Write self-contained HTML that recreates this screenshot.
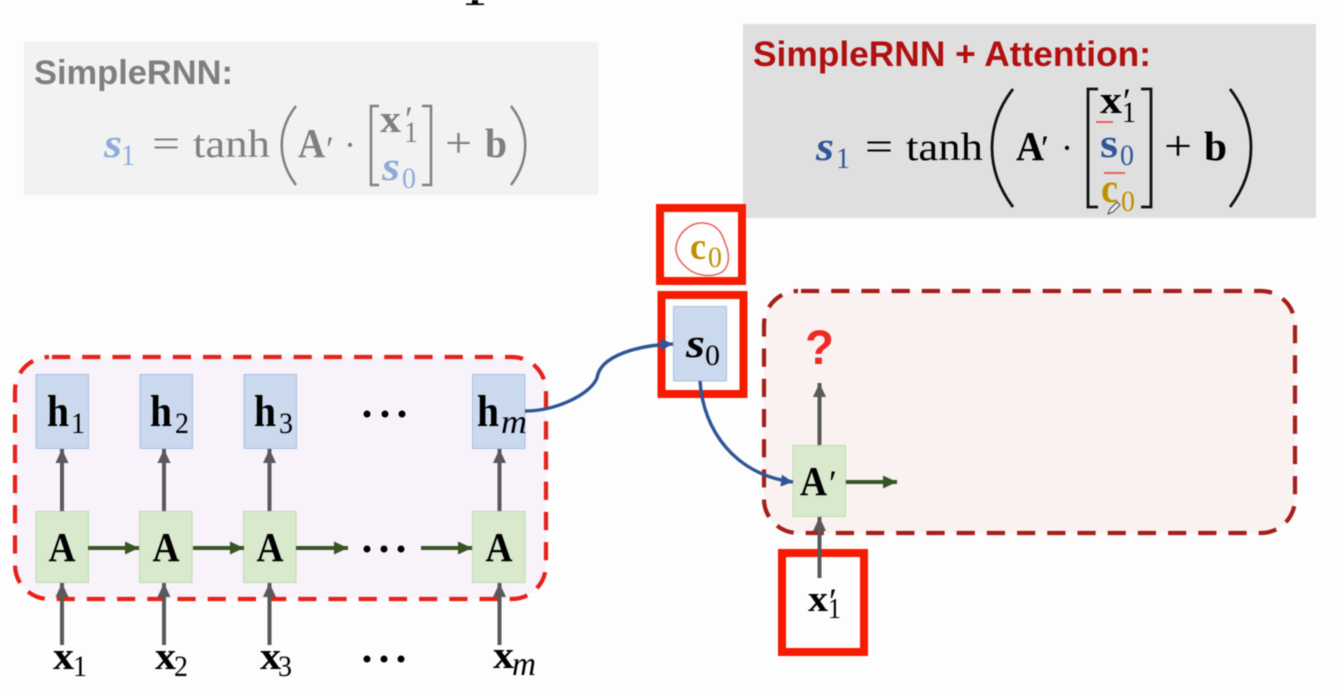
<!DOCTYPE html>
<html><head><meta charset="utf-8">
<style>
html,body{margin:0;padding:0;background:#fdfdfd;width:1337px;height:690px;overflow:hidden}
svg{display:block;filter:blur(0.45px)}
text{font-family:"Liberation Serif",serif;fill:#000}
.b{font-weight:bold;font-size:41px}
.h{font-weight:bold;font-size:44px}
.x{font-weight:bold;font-size:39px}
.s{font-size:30px}
.m{font-style:italic;font-size:34px}
.p{font-size:36px}
.lab{font-family:"Liberation Sans",sans-serif;font-weight:bold;font-size:34px}
</style></head><body>
<svg width="1337" height="690" viewBox="0 0 1337 690" xmlns="http://www.w3.org/2000/svg">
<defs>
<marker id="g" markerUnits="userSpaceOnUse" markerWidth="15" markerHeight="15" refX="14" refY="7.500" orient="auto"><path d="M0 1L14 7.500L0 14z" fill="#595959"/></marker>
<marker id="v" markerUnits="userSpaceOnUse" markerWidth="15" markerHeight="15" refX="14" refY="7.500" orient="auto"><path d="M0 1L14 7.500L0 14z" fill="#375623"/></marker>
<marker id="l" markerUnits="userSpaceOnUse" markerWidth="14" markerHeight="14" refX="12" refY="7" orient="auto"><path d="M0 1L12 7L0 13z" fill="#2f5597"/></marker>
</defs>
<rect width="1337" height="690" fill="#fdfdfd"/>
<path d="M466 5h18v-1.600h-6V0h-6v3.400h-6z" fill="#000"/>

<!-- left formula -->
<rect x="24" y="42" width="574" height="153" fill="#f2f2f2"/>
<text x="34" y="84" class="lab" style="fill:#7f7f7f" textLength="199" lengthAdjust="spacingAndGlyphs">SimpleRNN:</text>
<text x="104" y="157" class="b" style="fill:#8faadc;font-style:italic" textLength="18" lengthAdjust="spacingAndGlyphs">s</text>
<text x="121" y="165" class="s" style="fill:#8faadc" textLength="14" lengthAdjust="spacingAndGlyphs">1</text>
<text x="152" y="157" style="fill:#7f7f7f;font-size:40px" textLength="28" lengthAdjust="spacingAndGlyphs">=</text>
<text x="193" y="157" style="fill:#7f7f7f;font-size:39px" textLength="77" lengthAdjust="spacingAndGlyphs">tanh</text>
<text x="298" y="157" class="b" style="fill:#7f7f7f" textLength="27" lengthAdjust="spacingAndGlyphs">A</text>
<text x="326" y="161" class="p" style="fill:#7f7f7f">′</text>
<text x="344" y="157" style="fill:#7f7f7f;font-size:36px">·</text>
<text x="380" y="132" class="x" style="fill:#7f7f7f" textLength="21" lengthAdjust="spacingAndGlyphs">x</text>
<text x="404" y="142" class="s" style="fill:#7f7f7f" textLength="14" lengthAdjust="spacingAndGlyphs">1</text>
<text x="405" y="131" class="p" style="fill:#7f7f7f">′</text>
<text x="382" y="180" class="b" style="fill:#8faadc;font-style:italic" textLength="18" lengthAdjust="spacingAndGlyphs">s</text>
<text x="402" y="188" class="s" style="fill:#8faadc" textLength="14" lengthAdjust="spacingAndGlyphs">0</text>
<text x="445" y="157" style="fill:#7f7f7f;font-size:42px" textLength="27" lengthAdjust="spacingAndGlyphs">+</text>
<text x="485" y="157" class="b" style="fill:#7f7f7f" textLength="22" lengthAdjust="spacingAndGlyphs">b</text>
<g fill="none" stroke="#7f7f7f" stroke-width="2.500">
<path d="M296 106C277 130 277 160 296 185"/>
<path d="M511 106C530 130 530 160 511 185"/>
<path d="M379 106H371V185H379"/>
<path d="M422 106H431V185H422"/>
</g>

<!-- right formula -->
<rect x="743" y="24" width="573" height="194" fill="#e0dfdf"/>
<text x="753" y="66" class="lab" style="fill:#b01010;font-size:35px" textLength="398" lengthAdjust="spacingAndGlyphs">SimpleRNN + Attention:</text>
<text x="816" y="160" class="b" style="fill:#2f5597;font-style:italic" textLength="18" lengthAdjust="spacingAndGlyphs">s</text>
<text x="836" y="168" class="s" style="fill:#2f5597" textLength="14" lengthAdjust="spacingAndGlyphs">1</text>
<text x="865" y="160" style="font-size:40px" textLength="28" lengthAdjust="spacingAndGlyphs">=</text>
<text x="906" y="160" style="font-size:39px" textLength="77" lengthAdjust="spacingAndGlyphs">tanh</text>
<text x="1016" y="160" class="b" textLength="28" lengthAdjust="spacingAndGlyphs">A</text>
<text x="1041" y="160" class="p">′</text>
<text x="1061" y="160" style="font-size:36px">·</text>
<text x="1100" y="113" class="x" textLength="22" lengthAdjust="spacingAndGlyphs">x</text>
<text x="1122" y="122" class="s" textLength="14" lengthAdjust="spacingAndGlyphs">1</text>
<text x="1123" y="113" class="p">′</text>
<text x="1100" y="157" class="b" style="fill:#2f5597" textLength="18" lengthAdjust="spacingAndGlyphs">s</text>
<text x="1120" y="165" class="s" style="fill:#2f5597" textLength="14" lengthAdjust="spacingAndGlyphs">0</text>
<text x="1101" y="202" class="b" style="fill:#bf9000" textLength="17" lengthAdjust="spacingAndGlyphs">c</text>
<text x="1121" y="211" class="s" style="fill:#bf9000" textLength="14" lengthAdjust="spacingAndGlyphs">0</text>
<text x="1164" y="160" style="font-size:42px" textLength="28" lengthAdjust="spacingAndGlyphs">+</text>
<text x="1204" y="160" class="b" textLength="23" lengthAdjust="spacingAndGlyphs">b</text>
<g fill="none" stroke="#111" stroke-width="2.800">
<path d="M1013 89C985 125 985 170 1013 207"/>
<path d="M1230 89C1258 125 1258 170 1230 207"/>
<path d="M1098 89H1088V207H1098"/>
<path d="M1141 89H1151V207H1141"/>
</g>
<path d="M1096 122h17M1104 173h21" stroke="#e8504a" stroke-width="1.800" fill="none"/>
<path d="M1108 214l2-5 7-7 3 3-7 7z" fill="#eee" stroke="#444" stroke-width="1"/>

<!-- left dashed group -->
<rect x="15" y="357" width="531" height="242" rx="34" fill="#f8f3fb" stroke="#e8201a" stroke-width="4.200" stroke-dasharray="18.200 12" stroke-dashoffset="-3"/>
<!-- right dashed group -->
<rect x="764" y="291" width="531" height="242" rx="34" fill="#f9f2f1" stroke="#a51f1a" stroke-width="4.200" stroke-dasharray="18.200 12" stroke-dashoffset="-3"/>

<!-- h boxes -->
<g fill="#cbd9ee" stroke="#a9bfe3" stroke-width="1">
<rect x="36" y="374.500" width="52.500" height="74"/>
<rect x="140" y="374.500" width="52.500" height="74"/>
<rect x="244" y="374.500" width="52.500" height="74"/>
<rect x="472.500" y="374.500" width="52.500" height="74"/>
<rect x="673.500" y="306.500" width="53" height="74.500"/>
</g>
<!-- A boxes -->
<g fill="#d9e9cd" stroke="#bcdcaa" stroke-width="1">
<rect x="36" y="511.500" width="52.500" height="71"/>
<rect x="139.500" y="511.500" width="52.500" height="71"/>
<rect x="243.500" y="511.500" width="52.500" height="71"/>
<rect x="472.500" y="511.500" width="52.500" height="71"/>
<rect x="793" y="445.500" width="52.500" height="71"/>
</g>

<!-- red boxes -->
<g fill="none" stroke="#f51a00" stroke-width="8">
<rect x="660" y="208" width="82" height="73"/>
<rect x="661.500" y="295" width="82" height="99"/>
<rect x="782" y="553" width="82" height="99"/>
</g>

<!-- gray arrows -->
<g stroke="#595959" stroke-width="4" fill="none">
<path d="M62 511V449" marker-end="url(#g)"/>
<path d="M164 511V449" marker-end="url(#g)"/>
<path d="M269.500 511V449" marker-end="url(#g)"/>
<path d="M499.500 511V449" marker-end="url(#g)"/>
<path d="M62 645V583" marker-end="url(#g)"/>
<path d="M164 645V583" marker-end="url(#g)"/>
<path d="M269.500 645V583" marker-end="url(#g)"/>
<path d="M499.500 645V583" marker-end="url(#g)"/>
<path d="M819.500 445V383" marker-end="url(#g)"/>
<path d="M819.500 578V517" marker-end="url(#g)"/>
</g>
<!-- green arrows -->
<g stroke="#375623" stroke-width="4" fill="none">
<path d="M88 548H139" marker-end="url(#v)"/>
<path d="M193 548H244" marker-end="url(#v)"/>
<path d="M296 548H348" marker-end="url(#v)"/>
<path d="M421 548H472" marker-end="url(#v)"/>
<path d="M846 482H897" marker-end="url(#v)"/>
</g>
<!-- blue curves -->
<g stroke="#2f5597" stroke-width="3.400" fill="none">
<path d="M525 411C555 411 590 395 597 378C600 355 640 345 673 344" marker-end="url(#l)"/>
<path d="M700 381C703 430 735 475 793 482" marker-end="url(#l)"/>
</g>

<!-- dots -->
<g fill="#000">
<circle cx="367" cy="414" r="3.500"/><circle cx="385" cy="414" r="3.500"/><circle cx="402" cy="414" r="3.500"/>
<circle cx="367" cy="549" r="3.500"/><circle cx="384" cy="549" r="3.500"/><circle cx="401" cy="549" r="3.500"/>
<circle cx="367" cy="659" r="3.500"/><circle cx="384" cy="659" r="3.500"/><circle cx="401" cy="659" r="3.500"/>
</g>

<!-- h labels -->
<text x="47" y="426" class="h" textLength="22" lengthAdjust="spacingAndGlyphs">h</text><text x="71" y="433" class="s" textLength="14" lengthAdjust="spacingAndGlyphs">1</text>
<text x="150" y="426" class="h" textLength="22" lengthAdjust="spacingAndGlyphs">h</text><text x="175" y="433" class="s" textLength="14" lengthAdjust="spacingAndGlyphs">2</text>
<text x="254" y="426" class="h" textLength="22" lengthAdjust="spacingAndGlyphs">h</text><text x="279" y="433" class="s" textLength="14" lengthAdjust="spacingAndGlyphs">3</text>
<text x="477" y="426" class="h" textLength="22" lengthAdjust="spacingAndGlyphs">h</text><text x="501" y="433" class="m" textLength="26" lengthAdjust="spacingAndGlyphs">m</text>
<!-- A labels -->
<text x="48.500" y="561" class="b" textLength="27" lengthAdjust="spacingAndGlyphs">A</text>
<text x="152.500" y="561" class="b" textLength="27" lengthAdjust="spacingAndGlyphs">A</text>
<text x="256.500" y="561" class="b" textLength="27" lengthAdjust="spacingAndGlyphs">A</text>
<text x="485.500" y="561" class="b" textLength="27" lengthAdjust="spacingAndGlyphs">A</text>
<!-- x labels -->
<text x="53" y="669" class="x" textLength="21" lengthAdjust="spacingAndGlyphs">x</text><text x="73" y="676" class="s" textLength="14" lengthAdjust="spacingAndGlyphs">1</text>
<text x="155" y="669" class="x" textLength="21" lengthAdjust="spacingAndGlyphs">x</text><text x="174" y="676" class="s" textLength="14" lengthAdjust="spacingAndGlyphs">2</text>
<text x="260" y="669" class="x" textLength="21" lengthAdjust="spacingAndGlyphs">x</text><text x="278" y="676" class="s" textLength="14" lengthAdjust="spacingAndGlyphs">3</text>
<text x="493" y="668" class="x" textLength="21" lengthAdjust="spacingAndGlyphs">x</text><text x="512" y="675" class="m" textLength="24" lengthAdjust="spacingAndGlyphs">m</text>

<!-- center and right labels -->
<path d="M676 247C678 233 690 222 704 223C716 224 722 232 725 243C730 254 730 266 722 272C712 278 696 276 687 268C680 262 675 255 676 247Z" fill="none" stroke="#e6625c" stroke-width="1.500"/>
<text x="690" y="259" class="b" style="fill:#bf9000;font-size:38px" textLength="16" lengthAdjust="spacingAndGlyphs">c</text>
<text x="708" y="267" class="s" style="fill:#bf9000" textLength="14" lengthAdjust="spacingAndGlyphs">0</text>
<text x="686" y="357" class="b" style="font-style:italic" textLength="19" lengthAdjust="spacingAndGlyphs">s</text>
<text x="705" y="365" class="s" textLength="15" lengthAdjust="spacingAndGlyphs">0</text>
<text x="800" y="495" class="b" textLength="27" lengthAdjust="spacingAndGlyphs">A</text>
<text x="829" y="495" class="p">′</text>
<text x="808" y="611" style="font-size:37px;font-weight:bold" textLength="20" lengthAdjust="spacingAndGlyphs">x</text>
<text x="828" y="618" style="font-size:28px" textLength="13" lengthAdjust="spacingAndGlyphs">1</text>
<text x="829" y="613" class="p">′</text>
<text x="805" y="364" style="font-family:'Liberation Sans',sans-serif;font-weight:bold;font-size:48px;fill:#ee2a24" textLength="29" lengthAdjust="spacingAndGlyphs">?</text>
</svg>
</body></html>
